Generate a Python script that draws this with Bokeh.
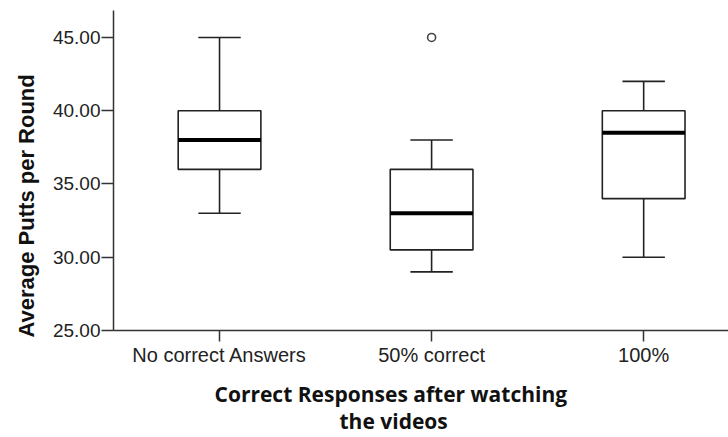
from bokeh.plotting import figure
from bokeh.models import Range1d, FixedTicker, NumeralTickFormatter, Title
from bokeh.embed import file_html
from bokeh.resources import INLINE

# ---- data ----
categories = ["No correct Answers", "50% correct", "100%"]
whisker_low = [33.0, 29.0, 30.0]
q1 = [36.0, 30.5, 34.0]
median = [38.0, 33.0, 38.5]
q3 = [40.0, 36.0, 40.0]
whisker_high = [45.0, 38.0, 42.0]
outlier_cat = ["50% correct"]
outlier_val = [45.0]
y_ticks = [25, 30, 35, 40, 45]

x_title = "Correct Responses after watching"
x_title2 = "the videos"
y_title = "Average Putts per Round"

# ---- layout ----
xpos = [i + 1 for i in range(len(categories))]
BOX_W = 0.39
CAP_W = 0.2
Y0, Y1 = 25.0, 46.84

p = figure(width=728, height=437, output_backend="svg", toolbar_location=None,
           x_range=Range1d(0.5, 3.40), y_range=Range1d(Y0, Y1),
           min_border_left=111, min_border_right=0, min_border_top=10,
           min_border_bottom=107)
p.outline_line_color = None
p.grid.visible = False
p.background_fill_color = "white"
p.border_fill_color = "white"

AX = "#333333"
for ax in (p.xaxis, p.yaxis):
    ax.axis_line_color = AX
    ax.axis_line_width = 1.5
    ax.major_tick_line_color = AX
    ax.major_tick_line_width = 1.5
    ax.minor_tick_line_color = None
    ax.major_tick_in = 0
    ax.major_label_text_font = "Liberation Sans"
    ax.major_label_text_color = "#222222"

p.yaxis.ticker = FixedTicker(ticks=y_ticks)
p.yaxis.formatter = NumeralTickFormatter(format="0.00")
p.yaxis.major_tick_out = 12
p.yaxis.major_label_standoff = 1
p.yaxis.major_label_text_font_size = "19px"

p.xaxis.ticker = FixedTicker(ticks=xpos)
p.xaxis.major_label_overrides = {x: c for x, c in zip(xpos, categories)}
p.xaxis.major_tick_out = 11
p.xaxis.major_label_standoff = 2
p.xaxis.major_label_text_font_size = "20px"

# boxes
LC = "#222222"
p.vbar(x=xpos, width=BOX_W, bottom=q1, top=q3, fill_color="white",
       line_color=LC, line_width=1.6)
# whiskers
p.segment(x0=xpos, x1=xpos, y0=q3, y1=whisker_high, line_color=LC, line_width=1.6)
p.segment(x0=xpos, x1=xpos, y0=q1, y1=whisker_low, line_color=LC, line_width=1.6)
xl = [x - CAP_W / 2 for x in xpos]
xr = [x + CAP_W / 2 for x in xpos]
p.segment(x0=xl, x1=xr, y0=whisker_high, y1=whisker_high, line_color=LC, line_width=1.6)
p.segment(x0=xl, x1=xr, y0=whisker_low, y1=whisker_low, line_color=LC, line_width=1.6)
# medians
ml = [x - BOX_W / 2 for x in xpos]
mr = [x + BOX_W / 2 for x in xpos]
p.segment(x0=ml, x1=mr, y0=median, y1=median, line_color="black", line_width=4)
# outliers
ox = [xpos[categories.index(c)] for c in outlier_cat]
p.scatter(x=ox, y=outlier_val, marker="circle", size=8, fill_color="white",
          line_color="#444444", line_width=1.6)

# axis titles
def mk_title(text, offset, size, standoff, font="Open Sans"):
    return Title(text=text, align="left", offset=offset, text_font=font,
                 text_font_style="bold", text_font_size=size,
                 text_color="#111111", standoff=standoff)

p.add_layout(Title(text=" ", text_font_size="1px", standoff=6), "below")  # spacer
p.add_layout(mk_title(x_title, 101, "21px", 0), "below")
p.add_layout(mk_title(x_title2, 226, "21px", -5), "below")
p.add_layout(Title(text=y_title, align="left", offset=-7,
                   text_font="Liberation Sans", text_font_style="bold",
                   text_font_size="22px", text_color="#111111", standoff=22),
             "left")

open("out.html", "w").write(file_html(p, INLINE))
